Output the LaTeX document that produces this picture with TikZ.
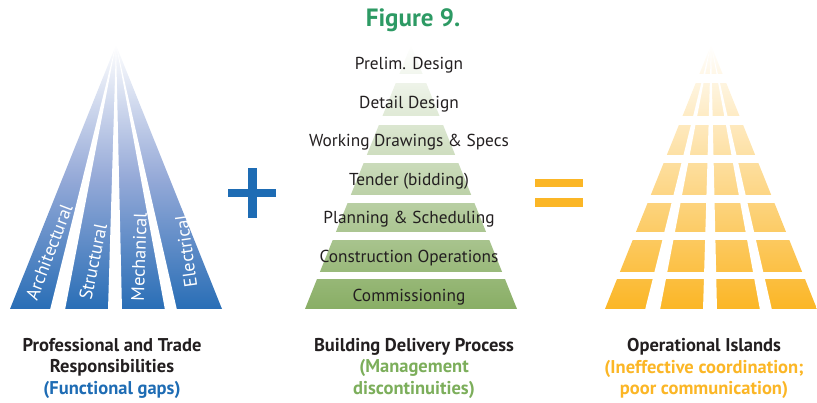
\documentclass[tikz,border=0pt]{standalone}
\usepackage{fontspec}
\setmainfont{PT Sans}
\definecolor{fanblue}{RGB}{41,110,182}
\definecolor{fanmid}{RGB}{150,170,216}
\definecolor{plusblue}{RGB}{30,108,180}
\definecolor{stepgreen}{RGB}{137,174,101}
\definecolor{subgreen}{RGB}{124,174,91}
\definecolor{islandyellow}{RGB}{251,182,38}
\definecolor{titlegreen}{RGB}{45,154,100}
\definecolor{textgray}{RGB}{35,31,32}

\begin{document}
\begin{tikzpicture}[x=1pt, y=-1pt,
	stage/.style={font=\fontsize{17.3}{20}\selectfont, text=textgray, anchor=base, inner sep=0pt},
	strip/.style={font=\fontsize{18.3}{20}\selectfont, text=white, inner sep=0pt},
	caption/.style={font=\bfseries\fontsize{18.5}{21.6}\selectfont, text=textgray, align=center, anchor=north, inner sep=0pt}]
	\useasboundingbox (0,0) rectangle (817,403);
	\node[font=\bfseries\fontsize{25}{28}\selectfont, text=titlegreen, anchor=base] (T) at (413,26.5) {Figure 9.};
	% fan of trades
		\shade[top color=white, bottom color=fanblue, middle color=fanmid] (116,45) -- (10,309) -- (222,309) -- cycle;
		\foreach \a/\b in {-66/-51, -8/6, 49/61}
			\fill[white] (116,44) -- (116+\a,310) -- (116+\b,310) -- cycle;
		\node[strip, rotate=69] (A) at (49,252) {Architectural};
		\node[strip, rotate=78] (S) at (93,262) {Structural};
		\node[strip, rotate=88] (M) at (139,257) {Mechanical};
		\node[strip, rotate=98] (E) at (186,251) {Electrical};
	% plus
		\fill[plusblue] (228,189) rectangle (276,197);
		\fill[plusblue] (248,168) rectangle (257,218);
	% delivery steps
		\shade[top color=white, bottom color=stepgreen] (411,45) -- (305,309) -- (517,309) -- cycle;
		\foreach \y/\z in {74/83, 116/125, 155/163, 195/203, 232/240, 272/279}
			\fill[white] (300,\y) rectangle (522,\z);
		\foreach \t [count=\k] in {Prelim. Design, Detail Design, Working Drawings \& Specs, Tender (bidding), Planning \& Scheduling, Construction Operations, Commissioning}
			\node[stage] (P\k) at (409,{69.5+38.6*(\k-1)}) {\t};
	% equals
		\fill[islandyellow] (535,179) rectangle (583,187);
		\fill[islandyellow] (535,198) rectangle (583,207);
	% islands
		\shade[top color=white, bottom color=islandyellow] (711,45) -- (605,309) -- (817,309) -- cycle;
		\foreach \a/\b in {-66/-51, -8/6, 49/61}
			\fill[white] (711,44) -- (711+\a,310) -- (711+\b,310) -- cycle;
		\foreach \y/\z in {74/83, 116/125, 155/163, 195/203, 232/240, 272/279}
			\fill[white] (600,\y) rectangle (817,\z);
	% captions
		\node[caption] (L) at (112,338) {Professional and Trade\\Responsibilities\\\textcolor{plusblue}{(Functional gaps)}};
		\node[caption] (C) at (414,338) {Building Delivery Process\\\textcolor{subgreen}{(Management}\\\textcolor{subgreen}{discontinuities)}};
		\node[caption] (R) at (704,338) {Operational Islands\\\textcolor{islandyellow}{(Ineffective coordination;}\\\textcolor{islandyellow}{poor communication)}};
\end{tikzpicture}
\end{document}
